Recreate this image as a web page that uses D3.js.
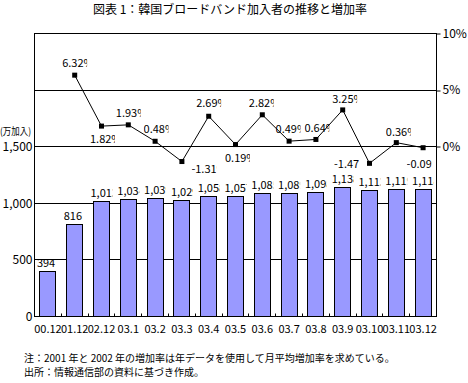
<!DOCTYPE html>
<html>
<head>
<meta charset="utf-8">
<script src="https://cdn.jsdelivr.net/npm/d3@7"></script>
<style>
    body { margin: 0; background: #fff; }
    text { font-family: "Noto Sans CJK JP", sans-serif; fill: #000; }
</style>
</head>
<body>
<div id="showBox"></div>
<script>
const months = ["00.12", "01.12", "02.12", "03.1", "03.2", "03.3", "03.4", "03.5", "03.6", "03.7", "03.8", "03.9", "03.10", "03.11", "03.12"]
const subscribers = [394, 816, 1013, 1034, 1039, 1029, 1058, 1057, 1085, 1089, 1098, 1138, 1113, 1119, 1118]
const growthRate = [null, 6.32, 1.82, 1.93, 0.48, -1.31, 2.69, 0.19, 2.82, 0.49, 0.64, 3.25, -1.47, 0.36, -0.09]
const leftTicks = [0, 500, 1000, 1500]
const gridTicks = [500, 1000, 1500, 2000]
const rightTicks = [0, 5, 10]

// where each rate label sits relative to its point (px), as placed in the original
const rateLabelNudge = [null, [0, -12], [1, 13], [0, -12], [1, -12], [22, 7], [0, -13], [2, 13],
    [-1, -12], [-1, -12], [1, -11], [2, -11], [-23, 1], [2, -11], [-4, 16]]

const W = 468, H = 383
const m = {left: 34.5, right: 436.5, top: 33.5, bottom: 316.5}

const svg = d3.select("#showBox").append("svg")
    .attr("width", W)
    .attr("height", H)

const x = d3.scaleBand()
    .domain(months)
    .range([m.left, m.right])
    .paddingInner(0.4)
    .paddingOuter(0.2)
const y = d3.scaleLinear().domain([0, 2500]).range([m.bottom, m.top])
const y2 = d3.scaleLinear().domain([-15, 10]).range([m.bottom, m.top])
const cx = d => x(d) + x.bandwidth() / 2
const crisp = v => Math.round(v - 0.5) + 0.5

// title
svg.append("text")
    .attr("x", 230)
    .attr("y", 14)
    .attr("text-anchor", "middle")
    .attr("font-size", 12)
    .text("図表 1：韓国ブロードバンド加入者の推移と増加率")

// gridlines
svg.append("g")
    .selectAll("line")
    .data(gridTicks)
    .join("line")
    .attr("x1", m.left).attr("x2", m.right)
    .attr("y1", d => crisp(y(d))).attr("y2", d => crisp(y(d)))
    .attr("stroke", "#000")

// bars
svg.append("g")
    .selectAll("rect")
    .data(subscribers)
    .join("rect")
    .attr("x", (d, i) => crisp(x(months[i])))
    .attr("y", d => crisp(y(d)))
    .attr("width", Math.round(x.bandwidth()))
    .attr("height", d => crisp(y(0)) - crisp(y(d)))
    .attr("fill", "#9999ff")
    .attr("stroke", "#000")

// bar labels, clipped like the original text boxes
const barLab = svg.append("g").attr("font-size", 11)
    .selectAll("svg")
    .data(subscribers)
    .join("svg")
    .attr("x", (d, i) => cx(months[i]) - 11)
    .attr("y", d => y(d) - 17)
    .attr("width", 22)
    .attr("height", 16)
barLab.append("text")
    .attr("x", 0)
    .attr("y", 12.5)
    .text(d => d3.format(",")(d))

// frame
svg.append("rect")
    .attr("x", m.left).attr("y", m.top)
    .attr("width", m.right - m.left)
    .attr("height", m.bottom - m.top)
    .attr("fill", "none")
    .attr("stroke", "#000")

// small inner ticks between categories
svg.append("g")
    .selectAll("line")
    .data(months.slice(1))
    .join("line")
    .attr("x1", (d, i) => crisp(m.left + x.step() * (i + 1)))
    .attr("x2", (d, i) => crisp(m.left + x.step() * (i + 1)))
    .attr("y1", m.bottom)
    .attr("y2", m.bottom - 3)
    .attr("stroke", "#000")

// left axis
const gl = svg.append("g")
    .attr("transform", `translate(${m.left},0)`)
    .call(d3.axisLeft(y).tickValues(leftTicks).tickSize(0).tickPadding(2).tickFormat(d3.format(",")))
gl.select(".domain").remove()
gl.selectAll("text").attr("font-size", 12).attr("font-family", null)

svg.append("text")
    .attr("x", 0)
    .attr("y", 135)
    .attr("font-size", 10)
    .attr("textLength", 31)
    .attr("lengthAdjust", "spacingAndGlyphs")
    .text("(万加入)")

// right axis
const gr = svg.append("g")
    .attr("transform", `translate(${m.right},0)`)
    .call(d3.axisRight(y2).tickValues(rightTicks).tickSize(4).tickPadding(2).tickFormat(d => d + "%"))
gr.select(".domain").remove()
gr.selectAll("line").attr("transform", d => `translate(0,${crisp(y2(d)) - y2(d)})`)
gr.selectAll("text").attr("font-size", 12).attr("font-family", null)

// bottom axis labels
const gb = svg.append("g")
    .attr("transform", `translate(0,${m.bottom})`)
    .call(d3.axisBottom(x).tickSize(0).tickPadding(9))
gb.select(".domain").remove()
gb.selectAll("text").attr("font-size", 11).attr("font-family", null)

// growth rate line
const pts = growthRate.map((v, i) => ({v, i})).filter(d => d.v != null)
svg.append("path")
    .datum(pts)
    .attr("fill", "none")
    .attr("stroke", "#000")
    .attr("d", d3.line().x(d => cx(months[d.i])).y(d => y2(d.v)))

svg.append("g")
    .selectAll("rect")
    .data(pts)
    .join("rect")
    .attr("x", d => cx(months[d.i]) - 2.5)
    .attr("y", d => y2(d.v) - 2.5)
    .attr("width", 5)
    .attr("height", 5)
    .attr("fill", "#000")

const rateLab = svg.append("g").attr("font-size", 11)
    .selectAll("svg")
    .data(pts)
    .join("svg")
    .attr("x", d => cx(months[d.i]) + rateLabelNudge[d.i][0] - 12.5)
    .attr("y", d => y2(d.v) + rateLabelNudge[d.i][1] - 8)
    .attr("width", 25)
    .attr("height", 16)
rateLab.append("text")
    .attr("x", 0)
    .attr("y", 12)
    .text(d => d.v.toFixed(2) + "%")

// notes
svg.append("text")
    .attr("x", 24)
    .attr("y", 362)
    .attr("font-size", 10)
    .text("注：2001 年と 2002 年の増加率は年データを使用して月平均増加率を求めている。")
svg.append("text")
    .attr("x", 24)
    .attr("y", 375.5)
    .attr("font-size", 10)
    .text("出所：情報通信部の資料に基づき作成。")
</script>
</body>
</html>
